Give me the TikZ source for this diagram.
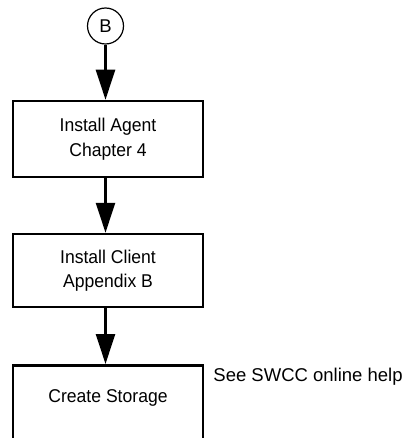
\documentclass[tikz,border=0pt]{standalone}
\usepackage{fontspec}
\setmainfont{Liberation Sans}
\newfontfamily\narrowfont[FakeStretch=0.95]{Liberation Sans}
\usetikzlibrary{arrows.meta}
\begin{document}
\begin{tikzpicture}[x=1pt,y=-1pt,
  stepbox/.style={draw, line width=2.5pt, minimum width=190pt, align=center,
    font=\narrowfont\fontsize{18.5}{24.5}\selectfont, inner sep=0pt},
  flow/.style={line width=2.5pt, -{Triangle[width=19pt,length=30pt]}},
  conn/.style={draw, circle, line width=1.2pt, minimum size=36pt, inner sep=0pt,
    font=\fontsize{18.5}{22}\selectfont}]
\useasboundingbox (0,0) rectangle (403,438);
\clip (0,0) rectangle (403,438);
\node[conn] (B) at (105.5,26) {B};
\node[stepbox, minimum height=76pt] (agent) at (108,139) {Install Agent\\Chapter 4};
\node[stepbox, minimum height=73pt] (client) at (108,270.5) {Install Client\\Appendix B};
\node[stepbox, minimum height=100pt, anchor=north,
  label={[anchor=center, yshift=-34pt, font=\narrowfont\fontsize{18.5}{22}\selectfont]north:Create Storage}]
  (storage) at (108,364) {};
\node[anchor=west, inner sep=0pt, font=\fontsize{18.5}{22}\selectfont]
  (help) at ([xshift=9pt, yshift=-13pt]storage.north east) {See SWCC online help};
\draw[flow] (B.south) -- (B.south |- agent.north);
\draw[flow] (B.south |- agent.south) -- (B.south |- client.north);
\draw[flow] (B.south |- client.south) -- (B.south |- storage.north);
\end{tikzpicture}
\end{document}
